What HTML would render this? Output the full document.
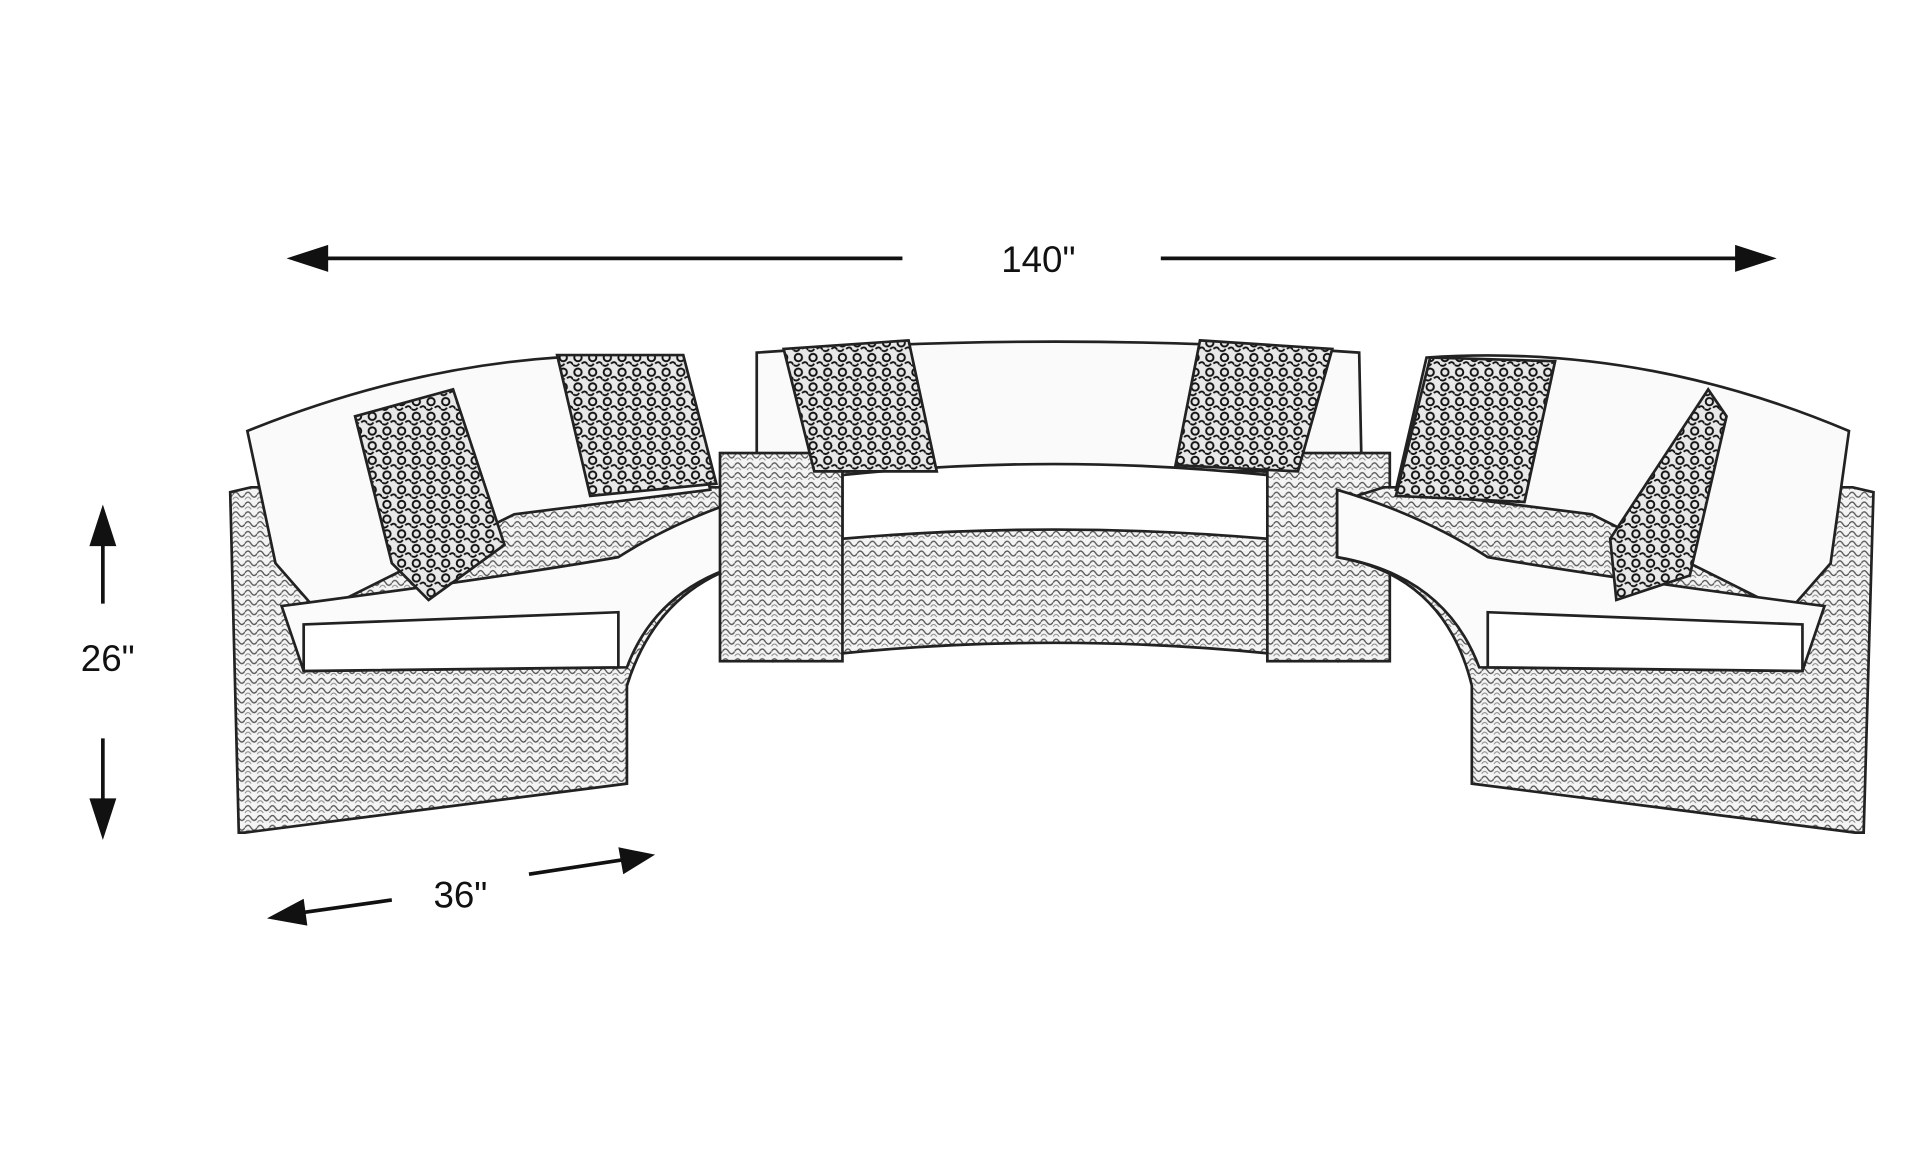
<!DOCTYPE html>
<html><head><meta charset="utf-8"><style>
html,body{margin:0;padding:0;background:#fff;width:1920px;height:1173px;overflow:hidden}
svg{display:block}
text{font-family:"Liberation Sans",sans-serif;font-size:30px;fill:#111}
</style></head><body>
<svg width="1920" height="1173" viewBox="0 0 1568 958" preserveAspectRatio="none" xmlns="http://www.w3.org/2000/svg">
<defs>
<pattern id="wk" width="10" height="8" patternUnits="userSpaceOnUse">
<rect width="10" height="8" fill="#f4f4f4"/>
<path d="M0 4 Q2.5 0 5 4 T10 4" stroke="#555" stroke-width="1.1" fill="none"/>
<path d="M0 8 Q2.5 4 5 8 T10 8" stroke="#888" stroke-width="0.8" fill="none"/>
</pattern>
<pattern id="pl" width="12" height="12" patternUnits="userSpaceOnUse">
<rect width="12" height="12" fill="#e8e8e8"/>
<circle cx="4" cy="4" r="3" fill="none" stroke="#111" stroke-width="1.6"/>
<path d="M7 9 Q10 6 12 10 M0 10 Q3 12 5 9" stroke="#111" stroke-width="1.5" fill="none"/>
</pattern>
</defs>
<g stroke="#111" stroke-width="3" fill="none">
<line x1="260" y1="211" x2="737" y2="211"/>
<line x1="948" y1="211" x2="1425" y2="211"/>
<line x1="84" y1="440" x2="84" y2="493"/>
<line x1="84" y1="603" x2="84" y2="660"/>
<line x1="242" y1="746" x2="320" y2="735"/>
<line x1="432" y1="714" x2="510" y2="702"/>
</g>
<g fill="#111">
<polygon points="234,211 268,200 268,222"/>
<polygon points="1451,211 1417,200 1417,222"/>
<polygon points="84,412 73,446 95,446"/>
<polygon points="84,686 73,652 95,652"/>
<polygon points="218,750 248,734 251,756"/>
<polygon points="535,698 505,692 509,714"/>
</g>
<text x="848" y="222" text-anchor="middle">140"</text>
<text x="88" y="548" text-anchor="middle">26"</text>
<text x="376" y="741" text-anchor="middle">36"</text>

<g stroke="#222" stroke-width="2.2">
<!-- left section -->
<path d="M188 402 L205 398 L590 398 L632 410 L632 455 Q540 470 512 560 L512 640 L200 680 L195 680 Z" fill="url(#wk)"/>
<path d="M202 352 Q380 280 555 292 L580 400 L420 420 L260 500 L225 460 Z" fill="#fafafa"/>
<path d="M230 495 Q420 470 505 455 Q560 420 632 400 L632 455 Q540 470 512 545 L248 548 Z" fill="#fbfbfb"/>
<path d="M248 510 L505 500 L505 545 L248 548 Z" fill="#fff"/>
<!-- center -->
<path d="M632 360 L1092 360 L1092 540 Q860 510 632 540 Z" fill="url(#wk)"/>
<path d="M618 288 Q860 270 1110 288 L1112 385 L618 385 Z" fill="#fafafa"/>
<path d="M688 388 Q860 370 1035 388 L1035 440 Q860 425 688 440 Z" fill="#fff"/>
<rect x="588" y="370" width="100" height="170" fill="url(#wk)"/>
<rect x="1035" y="370" width="100" height="170" fill="url(#wk)"/>
<!-- right section -->
<path d="M1530 402 L1513 398 L1130 398 L1092 410 L1092 455 Q1180 470 1202 560 L1202 640 L1515 680 L1522 680 Z" fill="url(#wk)"/>
<path d="M1510 352 Q1340 280 1165 292 L1140 400 L1300 420 L1460 500 L1495 460 Z" fill="#fafafa"/>
<path d="M1490 495 Q1300 470 1215 455 Q1160 420 1092 400 L1092 455 Q1180 470 1208 545 L1472 548 Z" fill="#fbfbfb"/>
<path d="M1472 510 L1215 500 L1215 545 L1472 548 Z" fill="#fff"/>
<!-- pillows -->
<path d="M290 340 L370 318 L412 445 L350 490 L320 460 Z" fill="url(#pl)"/>
<path d="M455 290 L558 290 L585 395 L482 405 Z" fill="url(#pl)"/>
<path d="M640 285 L742 278 L765 385 L665 385 Z" fill="url(#pl)"/>
<path d="M980 278 L1088 285 L1060 385 L960 380 Z" fill="url(#pl)"/>
<path d="M1168 292 L1270 295 L1245 410 L1140 405 Z" fill="url(#pl)"/>
<path d="M1395 318 L1410 340 L1380 470 L1320 490 L1315 440 Z" fill="url(#pl)"/>
</g>
</svg>
</body></html>
